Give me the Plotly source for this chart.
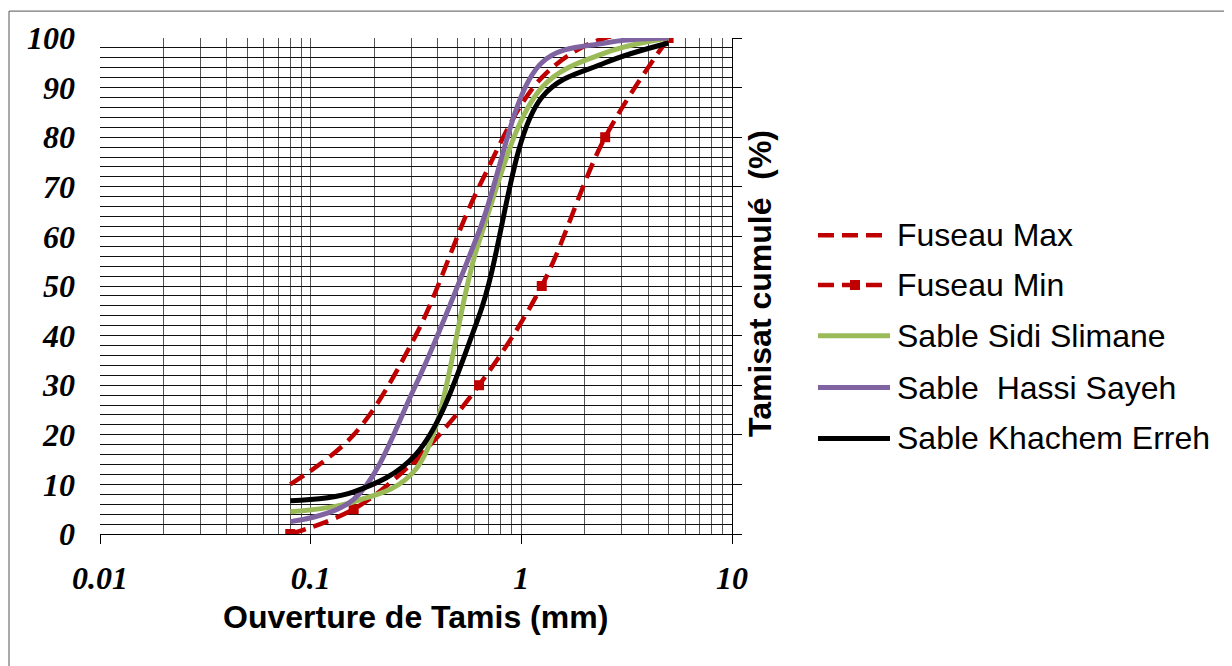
import plotly.graph_objects as go

# ---------------- data ----------------
sieves = [0.08, 0.16, 0.315, 0.63, 1.25, 2.5, 5]
fuseau_max = [10, 20, 40, 70, 92, 100, 100]
fuseau_min = [0, 5, 15, 30, 50, 80, 100]
sidi_slimane = [4.5, 6.5, 13, 59, 90, 97, 100]
hassi_sayeh = [2.5, 7, 30, 61, 95, 99, 100]
khachem_erreh = [6.7, 8.5, 16, 44, 88, 95, 99]

series_names = ["Fuseau Max", "Fuseau Min", "Sable Sidi Slimane",
                "Sable  Hassi Sayeh", "Sable Khachem Erreh"]
x_tick_vals = [0.01, 0.1, 1, 10]
x_tick_text = ["0.01", "0.1", "1", "10"]
y_tick_vals = list(range(0, 101, 10))
y_grid_vals = [v for v in range(2, 100, 2)]
x_grid_vals = [m * d for d in (0.01, 0.1, 1) for m in range(2, 10)] + [0.1, 1]

x_title = "Ouverture de Tamis (mm)"
y_title = "Tamisat cumulé  (%)"

# ---------------- geometry helpers (layout only) ----------------
W, H = 1232, 666
OFF = 8                      # page body margin
PLOT_L, PLOT_R, PLOT_T, PLOT_B = 100, 732, 36, 534   # plot area on screen
L = PLOT_L - OFF
T = PLOT_T - OFF
PW = PLOT_R - PLOT_L
PH = PLOT_B - PLOT_T
R = W - L - PW
B = H - T - PH


def px_x(px):
    return (px - PLOT_L) / PW


def px_y(py):
    return (PLOT_B - py) / PH


RED = "#C00000"
styles = [
    dict(color=RED, width=4.5, dash="16px,8px"),
    dict(color=RED, width=4.5, dash="16px,8px"),
    dict(color="#9BBB59", width=5),
    dict(color="#8064A2", width=5),
    dict(color="#000000", width=5),
]
series_values = [fuseau_max, fuseau_min, sidi_slimane, hassi_sayeh, khachem_erreh]

fig = go.Figure()

for name, vals, st in zip(series_names, series_values, styles):
    is_min = name == "Fuseau Min"
    fig.add_trace(go.Scatter(
        x=sieves, y=vals, name=name,
        mode="lines+markers" if is_min else "lines",
        line=dict(color=st["color"], width=st["width"], dash=st.get("dash", "solid"),
                  shape="spline", smoothing=1.0),
        marker=dict(symbol="square", size=10, color=RED) if is_min else None,
        showlegend=False,
        xaxis="x", yaxis="y",
    ))

axis_font = dict(family="Liberation Serif", size=32, color="black",
                 weight="bold", style="italic")

fig.update_layout(
    width=W, height=H,
    margin=dict(l=L, r=R, t=T, b=B, pad=0),
    paper_bgcolor="white", plot_bgcolor="white",
    showlegend=False,
    xaxis=dict(type="log", range=[-2, 1], tickvals=x_tick_vals, ticktext=x_tick_text,
               ticks="outside", ticklen=9, tickcolor="black", tickwidth=1,
               showline=True, linecolor="black", linewidth=1,
               showgrid=False, zeroline=False, tickfont=axis_font,
               ticklabelstandoff=7),
    xaxis2=dict(type="log", range=[-2, 1], overlaying="x", tickvals=x_grid_vals,
                showgrid=True, gridcolor="#555555", gridwidth=1,
                showticklabels=False, ticks="", showline=False, zeroline=False),
    yaxis=dict(range=[0, 100], tickvals=y_tick_vals,
               showgrid=False, showline=False, ticks="", zeroline=False,
               tickfont=axis_font, ticklabelstandoff=24),
    yaxis2=dict(range=[0, 100], overlaying="y", side="right", tickvals=y_grid_vals,
                showgrid=True, gridcolor="#111111", gridwidth=1,
                showticklabels=False, ticks="", showline=False, zeroline=False),
    yaxis3=dict(range=[0, 100], overlaying="y", side="right", tickvals=y_tick_vals,
                showgrid=False, showticklabels=False, ticks="outside", ticklen=9,
                tickcolor="black", showline=True, linecolor="black", zeroline=False),
)

# invisible traces to activate overlay axes
fig.add_trace(go.Scatter(x=[None], y=[None], xaxis="x2", yaxis="y2",
                         showlegend=False, hoverinfo="skip"))
fig.add_trace(go.Scatter(x=[None], y=[None], xaxis="x", yaxis="y3",
                         showlegend=False, hoverinfo="skip"))

title_font = dict(family="Liberation Sans", size=32, color="black")

# axis titles
fig.add_annotation(text="<b>" + x_title + "</b>", xref="paper", yref="paper",
                   x=px_x(415), y=px_y(617), xanchor="center", yanchor="middle",
                   showarrow=False, font=title_font)
fig.add_annotation(text="<b>" + y_title + "</b>", xref="paper", yref="paper",
                   x=px_x(760), y=px_y(283), xanchor="center", yanchor="middle",
                   showarrow=False, textangle=-90, font=title_font)

# manual legend
legend_rows = [234, 284, 335, 387, 438]
for name, st, row in zip(series_names, styles, legend_rows):
    fig.add_shape(type="line", xref="paper", yref="paper",
                  x0=px_x(818), x1=px_x(890), y0=px_y(row), y1=px_y(row),
                  line=dict(color=st["color"], width=st["width"],
                            dash=st.get("dash", "solid")))
    if name == "Fuseau Min":
        fig.add_shape(type="rect", xref="paper", yref="paper",
                      x0=px_x(850), x1=px_x(860), y0=px_y(row - 5), y1=px_y(row + 5),
                      fillcolor=RED, line=dict(width=0))
    fig.add_annotation(text=name, xref="paper", yref="paper",
                       x=px_x(895), y=px_y(row), xanchor="left", yanchor="middle",
                       showarrow=False,
                       font=dict(family="Liberation Sans", size=32, color="black"))

# chart border (left and top visible) - drawn just inside the figure edge
fig.add_shape(type="line", xref="paper", yref="paper",
              x0=px_x(OFF + 1), x1=px_x(OFF + 1), y0=px_y(OFF + 1), y1=px_y(700),
              line=dict(color="#555555", width=1))
fig.add_shape(type="line", xref="paper", yref="paper",
              x0=px_x(OFF + 1), x1=px_x(1240), y0=px_y(OFF + 1), y1=px_y(OFF + 1),
              line=dict(color="#555555", width=1))

fig.write_html("out.html")
